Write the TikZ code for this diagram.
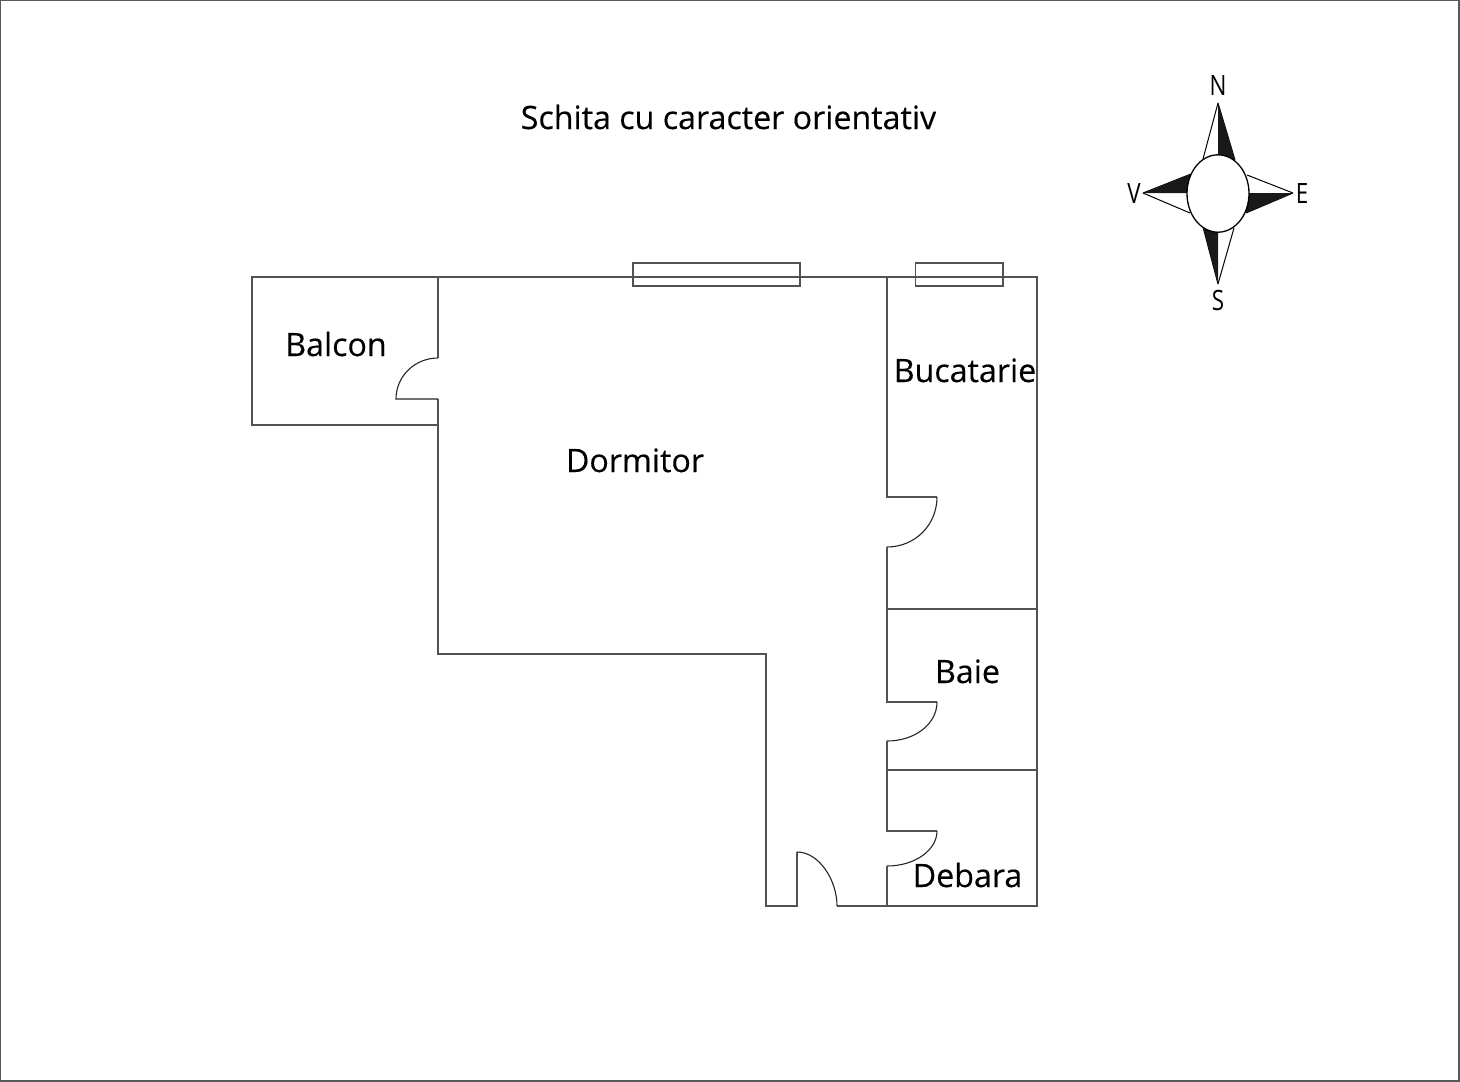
\documentclass[tikz,border=0pt]{standalone}
\usepackage{fontspec}
\setmainfont{Open Sans}
\tikzset{
  plan/.style={draw=black!68,line width=1.2pt,line join=miter},
  doorarc/.style={draw=black!85,line width=1.1pt},
  lbl/.style={inner sep=0pt,text=black,font=\fontsize{32.2}{32}\selectfont\addfontfeature{FakeBold=0.25}},
  cpt/.style={inner sep=0pt,text=black,font=\fontsize{28}{28}\selectfont\addfontfeature{FakeStretch=0.8}},
}
\begin{document}
\begin{tikzpicture}[x=1pt,y=-1pt]
\useasboundingbox (0,0) rectangle (1460,1082);
\fill[white] (0,0) rectangle (1460,1082);
\draw[draw=black!65,line width=1.2pt] (0.6,0.6) rectangle (1459,1081);
% windows
\draw[plan] (633,263) rectangle (800,286);
\draw[plan] (915.5,263) rectangle (1003,286);
% outer shell
\draw[plan] (438,277) -- (252,277) -- (252,425) -- (438,425);
\draw[plan] (252,277) -- (1037,277) -- (1037,906) -- (837,906);
\draw[plan] (438,277) -- (438,358);
\draw[plan] (438,399) -- (438,654) -- (766,654) -- (766,906) -- (797,906) -- (797,852);
% balcony door
\draw[doorarc] (438,358) .. controls (415,358) and (396,376) .. (396,399) -- (438,399);
% entrance door
\draw[doorarc] (797,852) .. controls (819,852) and (837,880) .. (837,906);
% partition wall
\draw[plan] (887,277) -- (887,497) -- (937,497);
\draw[doorarc] (937,497) .. controls (937,525) and (915,547) .. (887,547);
\draw[plan] (887,547) -- (887,702) -- (937,702);
\draw[doorarc] (937,702) .. controls (937,724) and (915,741) .. (887,741);
\draw[plan] (887,741) -- (887,831) -- (937,831);
\draw[doorarc] (937,831) .. controls (937,850) and (915,866) .. (887,866);
\draw[plan] (887,866) -- (887,906);
\draw[plan] (887,609) -- (1037,609);
\draw[plan] (887,770) -- (1037,770);
% labels
\node[lbl,anchor=base] (title) at (728.5,129) {Schita cu caracter orientativ};
\node[lbl,anchor=base] (balcon) at (336,356) {Balcon};
\node[lbl,anchor=base] (dormitor) at (635,472) {Dormitor};
\node[lbl,anchor=base] (bucatarie) at (965,382) {Bucatarie};
\node[lbl,anchor=base] (baie) at (967.5,683) {Baie};
\node[lbl,anchor=base] (debara) at (967.5,887) {Debara};
% compass
\draw[black,line width=1pt,line join=round] (1218,103) -- (1203,159) (1218,103) -- (1235,160);
\fill[black!90] (1218,103) -- (1235,160) -- (1218,160) -- cycle;
\draw[black,line width=1pt] (1218,284) -- (1234,228) (1218,284) -- (1203,227);
\fill[black!90] (1218,284) -- (1203,227) -- (1218,227) -- cycle;
\draw[black,line width=1pt] (1143,193) -- (1191,174) (1143,193) -- (1190,213);
\fill[black!90] (1143,193) -- (1191,174) -- (1191,193) -- cycle;
\draw[black,line width=1pt] (1293,193) -- (1247,175) (1293,193) -- (1246,213);
\fill[black!90] (1293,193) -- (1246,213) -- (1246,193) -- cycle;
\draw[black,fill=white,line width=1.3pt] (1218,193.5) ellipse [x radius=31,y radius=38.7];
\node[cpt,anchor=base] (n) at (1218,95) {N};
\node[cpt,anchor=base] (s) at (1218,310) {S};
\node[cpt,anchor=base] (v) at (1134,203) {V};
\node[cpt,anchor=base] (e) at (1302,203) {E};
\end{tikzpicture}
\end{document}
